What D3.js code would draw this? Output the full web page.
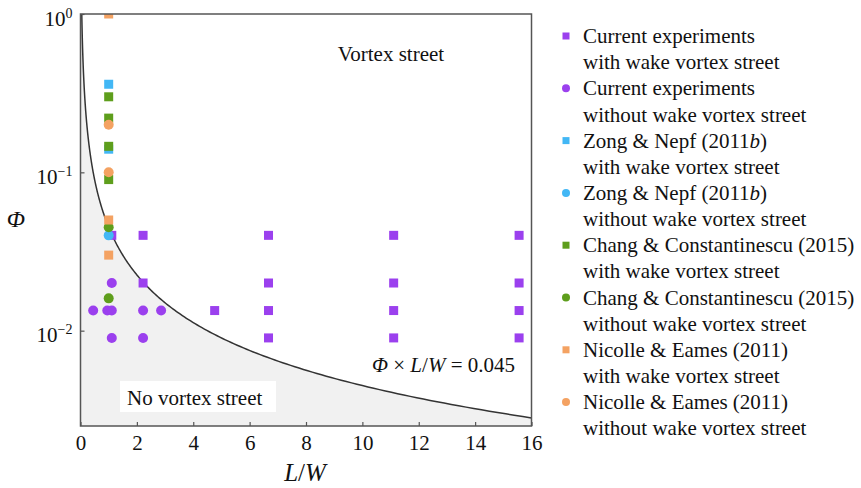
<!DOCTYPE html>
<html>
<head>
<meta charset="utf-8">
<script src="https://cdn.jsdelivr.net/npm/d3@7"></script>
<style>
body{margin:0;background:#fff;}
</style>
</head>
<body>
<div id="chart"></div>
<script>
// points, [L/W, phi]
var currentWith = [[1.11,0.04],[2.22,0.04],[6.67,0.04],[11.11,0.04],[15.56,0.04],
                   [2.22,0.02],[6.67,0.02],[11.11,0.02],[15.56,0.02],
                   [4.76,0.0134],[6.67,0.0134],[11.11,0.0134],[15.56,0.0134],
                   [6.67,0.009],[11.11,0.009],[15.56,0.009]];
var currentWithout = [[1.11,0.02],[0.45,0.0134],[0.95,0.0134],[1.11,0.0134],[2.22,0.0134],[2.86,0.0134],
                      [1.11,0.009],[2.22,0.009]];
var zongWith = [[1,0.36],[1,0.14]];
var zongWithout = [[1,0.04]];
var changWith = [[1,0.30],[1,0.22],[1,0.146],[1,0.09]];
var changWithout = [[1,0.045],[1,0.016]];
var nicolleWith = [[1,1.0],[1,0.05],[1,0.03]];
var nicolleWithout = [[1,0.2],[1,0.1]];

var xTicks = [0,2,4,6,8,10,12,14,16];
var yTicks = [1,0.1,0.01];
var yTickExp = ["0","\u22121","\u22122"];
var curveConst = 0.045;

var seriesNames = [["Current experiments","with wake vortex street"],
                   ["Current experiments","without wake vortex street"],
                   ["Zong & Nepf (2011b)","with wake vortex street"],
                   ["Zong & Nepf (2011b)","without wake vortex street"],
                   ["Chang & Constantinescu (2015)","with wake vortex street"],
                   ["Chang & Constantinescu (2015)","without wake vortex street"],
                   ["Nicolle & Eames (2011)","with wake vortex street"],
                   ["Nicolle & Eames (2011)","without wake vortex street"]];
var seriesData = [currentWith,currentWithout,zongWith,zongWithout,changWith,changWithout,nicolleWith,nicolleWithout];
var seriesColors = ["#9b40ee","#9b40ee","#42b7f5","#42b7f5","#5e9e1c","#5e9e1c","#f4a262","#f4a262"];
var seriesShapes = ["square","circle","square","circle","square","circle","square","circle"];

var svgWidth = 861, svgHeight = 488;
var pLeft = 80.5, pRight = 531.5, pTop = 14, pBottom = 426;
var serif = "'Liberation Serif'";

var svg = d3.select("#chart").append("svg")
    .attr("width", svgWidth)
    .attr("height", svgHeight);

var x = d3.scaleLinear().domain([0,16]).range([pLeft,pRight]);
var y = d3.scaleLog().domain([0.0025,1]).range([pBottom,pTop]);

svg.append("clipPath").attr("id","plotclip")
    .append("rect").attr("x",pLeft).attr("y",pTop).attr("width",pRight-pLeft).attr("height",pBottom-pTop);

// curve phi * L/W = 0.045
var curveL = [0];
for(var i=0;i<=300;i++){
    curveL.push(curveConst*Math.pow(16/curveConst, i/300));
}

var area = d3.area()
    .x(function(d){ return x(d); })
    .y0(pBottom)
    .y1(function(d){ return d === 0 ? pTop : y(Math.min(1, curveConst/d)); });

svg.append("path")
    .datum(curveL)
    .attr("d", area)
    .attr("fill", "#f1f1f1")
    .attr("clip-path","url(#plotclip)");

var line = d3.line()
    .x(function(d){ return x(d); })
    .y(function(d){ return y(curveConst/d); });

svg.append("path")
    .datum(curveL.slice(1))
    .attr("d", line)
    .attr("fill","none")
    .attr("stroke","#333")
    .attr("stroke-width",1.5)
    .attr("clip-path","url(#plotclip)");

var addText = function(g, xp, yp, size){
    return g.append("text").attr("x",xp).attr("y",yp)
        .style("font-family", serif).style("font-size", size+"px").attr("fill","#111");
};

// labels inside plot
addText(svg, 391, 61, 21).attr("text-anchor","middle").text("Vortex street");

svg.append("rect").attr("x",120).attr("y",381).attr("width",156).attr("height",31).attr("fill","#fff");
addText(svg, 127, 405, 21).text("No vortex street");

var eq = addText(svg, 372, 372, 21);
eq.append("tspan").style("font-style","italic").text("\u03A6");
eq.append("tspan").text(" \u00D7 ");
eq.append("tspan").style("font-style","italic").text("L");
eq.append("tspan").text("/");
eq.append("tspan").style("font-style","italic").text("W");
eq.append("tspan").text(" = 0.045");

// markers
var pts = svg.append("g").attr("clip-path","url(#plotclip)");
seriesData.forEach(function(data, k){
    if(seriesShapes[k] == "square"){
        pts.selectAll(null).data(data).enter().append("rect")
            .attr("x", function(d){ return x(d[0]) - 4.5; })
            .attr("y", function(d){ return y(d[1]) - 4.5; })
            .attr("width", 9).attr("height", 9)
            .attr("fill", seriesColors[k]);
    }else{
        pts.selectAll(null).data(data).enter().append("circle")
            .attr("cx", function(d){ return x(d[0]); })
            .attr("cy", function(d){ return y(d[1]); })
            .attr("r", 5)
            .attr("fill", seriesColors[k]);
    }
});

// axes
var xAxis = d3.axisBottom(x).tickValues(xTicks).tickSizeInner(-4).tickSizeOuter(0).tickPadding(9);
var gx = svg.append("g").attr("transform","translate(0,"+pBottom+")").call(xAxis);
gx.select(".domain").remove();
gx.selectAll("line").attr("stroke","#555").attr("stroke-width",1.2);
gx.selectAll("text").style("font-family", serif).style("font-size","21px").attr("fill","#111");

var yAxis = d3.axisLeft(y).tickValues(yTicks).tickSizeInner(-4).tickSizeOuter(0).tickFormat("");
var gy = svg.append("g").attr("transform","translate("+pLeft+",0)").call(yAxis);
gy.select(".domain").remove();
gy.selectAll("line").attr("stroke","#555").attr("stroke-width",1.2);
gy.selectAll(".tick").each(function(d, i){
    var t = addText(d3.select(this), -8, 11, 21).attr("text-anchor","end");
    t.append("tspan").text("10");
    t.append("tspan").attr("dy",-8).style("font-size","14px").text(yTickExp[i]);
});

svg.append("rect").attr("x",pLeft).attr("y",pTop).attr("width",pRight-pLeft).attr("height",pBottom-pTop)
    .attr("fill","none").attr("stroke","#555").attr("stroke-width",1.5);

addText(svg, 16, 227, 24).attr("text-anchor","middle").style("font-style","italic").text("\u03A6");

var xl = addText(svg, 305, 481, 25).attr("text-anchor","middle").style("font-style","italic");
xl.append("tspan").text("L");
xl.append("tspan").style("font-style","normal").text("/");
xl.append("tspan").text("W");

// legend
var legend = svg.append("g");
seriesNames.forEach(function(names, k){
    var cy = 36 + k*52.3;
    if(seriesShapes[k] == "square"){
        legend.append("rect").attr("x",562.5).attr("y",cy-3.5).attr("width",7).attr("height",7).attr("fill",seriesColors[k]);
    }else{
        legend.append("circle").attr("cx",566).attr("cy",cy).attr("r",4).attr("fill",seriesColors[k]);
    }
    var t1 = addText(legend, 583, cy+7, 21);
    if(names[0].indexOf("2011b") >= 0){
        t1.append("tspan").text(names[0].replace("2011b)","2011"));
        t1.append("tspan").style("font-style","italic").text("b");
        t1.append("tspan").text(")");
    }else{
        t1.text(names[0]);
    }
    addText(legend, 583, cy+7+26.2, 21).text(names[1]);
});
</script>
</body>
</html>
